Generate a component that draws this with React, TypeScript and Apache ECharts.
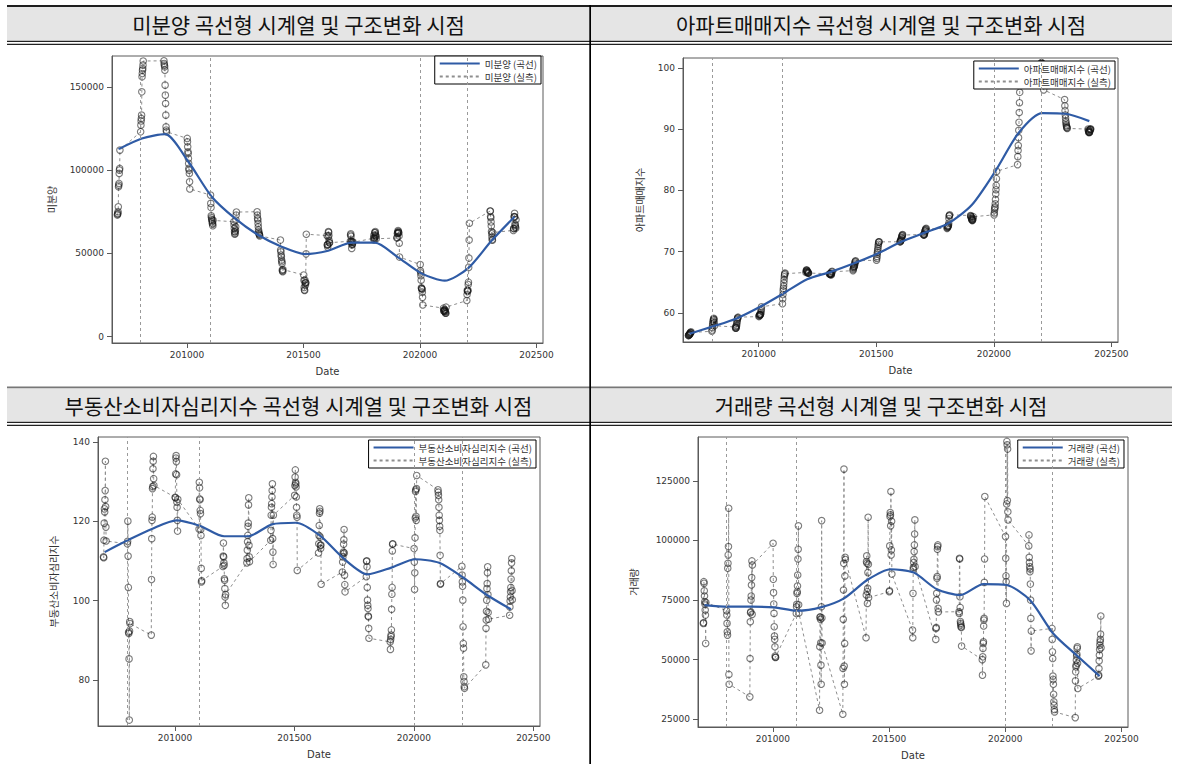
import React, { useEffect, useRef } from "react";
import * as echarts from "echarts";

// ---------------- data ----------------
const years = [2007, 2008, 2009, 2010, 2011, 2012, 2013, 2014, 2015, 2016, 2017, 2018, 2019, 2020, 2021, 2022, 2023, 2024];
const breakDates = [200801, 201101, 202001, 202201];
const xTickValues = [201000, 201500, 202000, 202500];

const titles = [
  "미분양 곡선형 시계열 및 구조변화 시점",
  "아파트매매지수 곡선형 시계열 및 구조변화 시점",
  "부동산소비자심리지수 곡선형 시계열 및 구조변화 시점",
  "거래량 곡선형 시계열 및 구조변화 시점",
];
const seriesLabels = ["미분양", "아파트매매지수", "부동산소비자심리지수", "거래량"];

const unsoldMonthly = [
  [73000, 73500, 74000, 75000, 78000, 90000, 91000, 92000, 98000, 100000, 101000, 112000],
  [123000, 127000, 129500, 131000, 133000, 147000, 156000, 158000, 160000, 161000, 163000, 165500],
  [165600, 164000, 163000, 162000, 160000, 151000, 145000, 140000, 133000, 126000, 124000, 123000],
  [119000, 117000, 114000, 111000, 110000, 107000, 104000, 101000, 100000, 98000, 93000, 88700],
  [85000, 80000, 77500, 72600, 71500, 70500, 70000, 69000, 68000, 67500, 66600, 69800],
  [69000, 67000, 65000, 63000, 61500, 62000, 63000, 64000, 66000, 70000, 73000, 74800],
  [75000, 73000, 71000, 70000, 68000, 66000, 64000, 63000, 62000, 61500, 61000, 60500],
  [58000, 52000, 51000, 49000, 48000, 46000, 45000, 44000, 40000, 39500, 39000, 40300],
  [37000, 33800, 29500, 28100, 27700, 34000, 32200, 30900, 32500, 32200, 49700, 61500],
  [60700, 55100, 55100, 53800, 55400, 59900, 63100, 62600, 60700, 57700, 56400, 56400],
  [57300, 61000, 61700, 60300, 56900, 57300, 53000, 55000, 55700, 55500, 56600, 57000],
  [59100, 60900, 58000, 59600, 58900, 62400, 62500, 63100, 61200, 60600, 60100, 58800],
  [59200, 59600, 62000, 62000, 62700, 63700, 63100, 62500, 62300, 60400, 56100, 47800],
  [43300, 39500, 38300, 36600, 33900, 29300, 28900, 28800, 28300, 26700, 23600, 19000],
  [17100, 15800, 15300, 15300, 16000, 16300, 15800, 15000, 14800, 14100, 14100, 17700],
  [21700, 25300, 27900, 27200, 27400, 27900, 31300, 32700, 41600, 47200, 58000, 68100],
  [75400, 75400, 72100, 71400, 68900, 66400, 63100, 61800, 59800, 58300, 57900, 62500],
  [63800, 64900, 64900, 71900, 72100, 74000, 71800, 67600, 66800, 65800, 65100, 70200],
];
const unsoldCurve = [112600, 119000, 121600, 105000, 84000, 71000, 61000, 54000, 49600, 51600, 56400, 56400, 47600, 38000, 33600, 41000, 57400, 72000];

const aptMonthly = [
  [56.3, 56.3, 56.4, 56.4, 56.5, 56.5, 56.6, 56.6, 56.7, 56.8, 56.8, 56.9],
  [57.0, 57.2, 57.6, 58.0, 58.3, 58.6, 58.8, 59.0, 59.1, 58.9, 58.4, 57.9],
  [57.7, 57.5, 57.5, 57.6, 57.8, 58.0, 58.3, 58.6, 58.9, 59.1, 59.2, 59.3],
  [59.4, 59.5, 59.6, 59.7, 59.7, 59.7, 59.7, 59.8, 60.0, 60.3, 60.6, 61.0],
  [61.5, 62.3, 63.0, 63.6, 64.0, 64.4, 64.9, 65.4, 65.9, 66.2, 66.4, 66.5],
  [66.6, 66.8, 67.0, 67.0, 66.9, 66.8, 66.7, 66.6, 66.6, 66.5, 66.5, 66.5],
  [66.4, 66.3, 66.3, 66.4, 66.4, 66.3, 66.3, 66.2, 66.3, 66.5, 66.7, 66.8],
  [66.9, 67.1, 67.3, 67.5, 67.5, 67.6, 67.7, 67.9, 68.1, 68.3, 68.4, 68.5],
  [68.6, 68.9, 69.2, 69.6, 69.9, 70.2, 70.5, 70.9, 71.2, 71.5, 71.6, 71.6],
  [71.6, 71.6, 71.7, 71.8, 71.9, 72.0, 72.2, 72.3, 72.5, 72.6, 72.7, 72.8],
  [72.8, 72.7, 72.7, 72.8, 72.9, 73.1, 73.3, 73.4, 73.5, 73.6, 73.7, 73.8],
  [73.8, 73.9, 74.0, 74.1, 74.1, 74.2, 74.3, 74.6, 75.4, 75.8, 75.9, 76.0],
  [75.9, 75.8, 75.7, 75.6, 75.4, 75.3, 75.2, 75.1, 75.1, 75.2, 75.4, 75.7],
  [76.0, 76.3, 76.8, 77.1, 77.3, 77.8, 78.5, 79.4, 80.1, 80.8, 81.9, 83.1],
  [84.2, 85.5, 86.5, 87.3, 88.6, 89.8, 91.1, 92.7, 94.3, 96.0, 97.9, 99.5],
  [100.4, 100.8, 100.8, 100.7, 100.6, 100.5, 100.3, 100.0, 99.5, 98.8, 97.6, 96.4],
  [94.8, 93.8, 93.0, 92.3, 91.8, 91.3, 91.0, 90.7, 90.5, 90.3, 90.2, 90.1],
  [90.0, 89.8, 89.6, 89.5, 89.4, 89.5, 89.5, 89.7, 89.9, 89.9, 90.0, 90.0],
];
const aptCurve = [56.6, 57.8, 59.1, 61.0, 63.2, 65.5, 66.7, 68.1, 69.7, 71.6, 73.1, 74.6, 77.6, 83.1, 89.4, 92.6, 92.5, 91.3];

const sentimentMonthly = [
  [111.0, 110.8, 115.2, 119.5, 123.1, 122.3, 125.4, 127.7, 135.1, 123.7, 118.5, 115.0],
  [114.3, 114.9, 120.0, 111.2, 103.3, 92.0, 91.7, 85.3, 69.9, 92.3, 94.7, 94.2],
  [91.3, 105.3, 115.6, 120.2, 121.0, 128.2, 128.7, 133.2, 135.1, 136.3, 130.7, 129.0],
  [126.0, 125.9, 131.9, 135.9, 136.5, 135.0, 131.7, 124.8, 123.5, 120.2, 117.5, 125.5],
  [118.0, 129.8, 128.4, 125.6, 125.4, 122.7, 121.9, 117.9, 116.4, 108.1, 104.7, 105.0],
  [108.6, 111.2, 114.5, 111.0, 109.5, 108.9, 105.5, 105.1, 103.0, 100.9, 98.8, 101.5],
  [109.5, 110.6, 112.7, 114.8, 116.4, 118.7, 119.5, 124.1, 125.9, 113.9, 111.0, 109.8],
  [115.2, 117.7, 121.5, 123.5, 124.4, 126.1, 127.7, 129.4, 115.6, 112.2, 109.1, 121.5],
  [126.5, 129.0, 131.1, 132.9, 129.8, 129.4, 128.6, 126.1, 123.5, 121.5, 121.0, 107.6],
  [112.0, 114.3, 116.4, 118.9, 122.0, 123.1, 122.5, 116.0, 113.9, 113.1, 114.0, 104.1],
  [107.2, 109.7, 111.0, 111.8, 112.2, 114.2, 115.3, 117.9, 112.0, 106.4, 104.0, 102.2],
  [106.0, 109.9, 110.0, 108.5, 103.3, 100.1, 98.8, 98.0, 96.1, 95.9, 93.0, 90.5],
  [89.6, 87.7, 90.2, 90.9, 91.3, 92.6, 97.8, 101.6, 103.3, 112.5, 114.2, 114.3],
  [113.1, 109.7, 102.8, 107.0, 115.8, 120.8, 127.5, 127.9, 121.2, 120.2, 128.2, 131.5],
  [127.9, 127.3, 126.5, 125.4, 123.5, 121.5, 120.2, 118.7, 117.7, 111.4, 104.1, 104.3],
  [108.6, 106.4, 104.7, 103.6, 100.1, 93.4, 89.2, 88.0, 80.8, 79.6, 78.3, 77.9],
  [83.8, 93.0, 95.1, 97.3, 100.1, 103.0, 104.3, 107.0, 108.5, 101.5, 97.0, 95.3],
  [96.3, 98.4, 99.9, 100.9, 102.2, 103.3, 105.4, 107.5, 109.5, 110.6, 102.5, 100.2],
];
const sentimentCurve = [112.2, 115.3, 118.1, 120.2, 118.8, 116.2, 116.2, 119.2, 119.6, 116.4, 110.6, 106.6, 108.3, 110.4, 109.5, 105.8, 101.4, 97.8];

const volumeMonthly = [
  [65200, 65500, 82700, 82000, 78900, 76700, 74300, 73300, 70800, 68700, 56800, 74000],
  [70500, 68700, 65200, 61700, 60300, 88300, 90400, 93900, 97400, 113500, 43800, 39700],
  [34400, 50500, 65900, 69700, 70100, 75000, 76700, 81300, 84400, 91400, 69000, 89700],
  [98800, 83700, 78100, 73300, 69400, 63800, 59900, 58500, 55400, 51500, 50900, 51000],
  [69400, 72200, 73200, 77800, 78500, 80900, 85500, 92200, 96300, 106100, 73000, 69600],
  [28800, 55400, 67700, 68000, 66900, 57100, 47700, 39700, 72200, 108300, 67500, 57000],
  [27100, 46300, 66900, 79200, 90400, 129900, 47300, 39700, 56800, 85100, 92900, 92000],
  [59200, 77100, 91100, 93500, 90400, 78500, 73600, 79900, 86500, 109700, 90000, 76000],
  [78500, 78900, 97700, 110000, 111700, 110700, 106100, 120500, 93900, 96000, 108000, 85900],
  [62400, 59200, 77800, 87900, 88700, 90700, 92100, 95300, 98100, 102700, 108600, 89000],
  [58500, 63100, 63500, 75000, 77800, 84100, 84800, 96300, 97400, 98100, 71500, 70000],
  [70100, 69400, 92500, 92200, 76400, 71900, 66000, 65200, 64500, 63800, 63500, 55700],
  [50000, 43500, 51200, 54700, 56800, 57500, 64100, 66600, 67300, 82400, 92200, 118400],
  [101600, 92500, 85100, 82700, 73600, 115300, 141500, 140100, 116700, 138300, 112000, 108600],
  [97700, 102300, 92900, 90700, 89000, 86900, 88000, 81700, 75000, 67300, 53700, 62000],
  [63100, 58500, 53300, 50500, 43100, 41700, 39700, 35500, 32300, 30900, 29100, 28100],
  [25700, 41100, 44900, 47000, 47700, 49800, 51500, 52300, 54700, 55400, 48500, 37900],
  [43100, 43500, 46300, 49500, 51900, 54300, 56100, 57500, 58500, 60700, 68300, 55000],
];
const volumeCurve = [72900, 72200, 72200, 71900, 70500, 71900, 75700, 83400, 87900, 86500, 79500, 77100, 81700, 81300, 75000, 61000, 51900, 43100];

const yTicks = [
  [0, 50000, 100000, 150000],
  [60, 70, 80, 90, 100],
  [80, 100, 120, 140],
  [25000, 50000, 75000, 100000, 125000],
];
const yRanges = [
  [-3800, 168500],
  [55.25, 101.6],
  [68.4, 141.2],
  [21765, 143361],
];

// ---------------- layout ----------------
const panels = [
  { grid: { left: 112, top: 56, width: 431, height: 287 }, nameGap: 56, legend: { right: 636, top: 56 } },
  { grid: { left: 683, top: 58, width: 435, height: 284 }, nameGap: 39, legend: { right: 62, top: 61 } },
  { grid: { left: 98, top: 437, width: 442, height: 289 }, nameGap: 40, legend: { right: 641, top: 440 } },
  { grid: { left: 698, top: 437, width: 430, height: 290 }, nameGap: 60, legend: { right: 53, top: 440 } },
];
const monthlyAll = [unsoldMonthly, aptMonthly, sentimentMonthly, volumeMonthly];
const curveAll = [unsoldCurve, aptCurve, sentimentCurve, volumeCurve];

const KR = "'Noto Sans CJK KR', 'Noto Sans', sans-serif";
const NUM = "'DejaVu Sans', sans-serif";

function buildOption() {
  const grid: any[] = [];
  const xAxis: any[] = [];
  const yAxis: any[] = [];
  const series: any[] = [];
  const legend: any[] = [];

  panels.forEach((p, i) => {
    const label = seriesLabels[i];
    const curveName = `${label} (곡선)`;
    const obsName = `${label} (실측)`;
    const pts: number[][] = [];
    years.forEach((y, yi) => {
      monthlyAll[i][yi].forEach((v, m) => pts.push([y * 100 + m + 1, v]));
    });
    const curvePts = years.map((y, yi) => [y * 100 + 6, curveAll[i][yi]]);

    grid.push({ ...p.grid, show: true, borderColor: "#5a5a5a", borderWidth: 1, containLabel: false });
    xAxis.push({
      type: "value",
      gridIndex: i,
      min: 200678,
      max: 202528,
      name: "Date",
      nameLocation: "middle",
      nameGap: 23,
      nameTextStyle: { fontFamily: NUM, fontSize: 10, color: "#333" },
      axisLine: { show: true, onZero: false, lineStyle: { color: "#5a5a5a" } },
      axisTick: { show: true, length: 5, customValues: xTickValues, lineStyle: { color: "#5a5a5a" } },
      axisLabel: {
        customValues: xTickValues,
        formatter: (v: number) => String(v),
        fontFamily: NUM,
        fontSize: 9,
        color: "#333",
        margin: 7,
      },
      splitLine: { show: false },
    });
    yAxis.push({
      type: "value",
      gridIndex: i,
      min: yRanges[i][0],
      max: yRanges[i][1],
      name: label,
      nameLocation: "middle",
      nameGap: p.nameGap,
      nameTextStyle: { fontFamily: KR, fontSize: 10, color: "#333" },
      axisLine: { show: true, onZero: false, lineStyle: { color: "#5a5a5a" } },
      axisTick: { show: true, length: 5, customValues: yTicks[i], lineStyle: { color: "#5a5a5a" } },
      axisLabel: {
        customValues: yTicks[i],
        formatter: (v: number) => String(v),
        fontFamily: NUM,
        fontSize: 9,
        color: "#333",
        margin: 8,
      },
      splitLine: { show: false },
    });
    series.push({
      type: "line",
      name: obsName,
      xAxisIndex: i,
      yAxisIndex: i,
      data: pts,
      symbol: "none",
      lineStyle: { color: "#8e8e8e", width: 1, type: [3, 3] },
      itemStyle: { color: "#8e8e8e" },
      z: 2,
      markLine: {
        silent: true,
        symbol: ["none", "none"],
        label: { show: false },
        lineStyle: { color: "#9a9a9a", width: 1, type: [3, 3] },
        data: breakDates.map((d) => ({ xAxis: d })),
      },
    });
    series.push({
      type: "scatter",
      name: `${label}-pts`,
      xAxisIndex: i,
      yAxisIndex: i,
      data: pts,
      symbol: "circle",
      symbolSize: 6.5,
      itemStyle: { color: "rgba(0,0,0,0)", borderColor: "rgba(20,20,20,0.7)", borderWidth: 1.1 },
      z: 3,
    });
    series.push({
      type: "line",
      name: curveName,
      xAxisIndex: i,
      yAxisIndex: i,
      data: curvePts,
      smooth: 0.25,
      symbol: "none",
      lineStyle: { color: "#2f5ba5", width: 2.2 },
      itemStyle: { color: "#2f5ba5" },
      z: 4,
    });
    legend.push({
      orient: "vertical",
      right: p.legend.right,
      top: p.legend.top,
      data: [curveName, obsName],
      itemWidth: 40,
      itemHeight: 13,
      itemGap: 0,
      padding: [1, 4, 1, 4],
      borderColor: "#000",
      borderWidth: 1,
      backgroundColor: "#fff",
      selectedMode: false,
      itemStyle: { opacity: 0, color: "rgba(0,0,0,0)", borderWidth: 0 },
      textStyle: { fontFamily: KR, fontSize: 9.5, lineHeight: 13, color: "#333" },
    });
  });

  const graphic: any[] = [
    // header row 1
    { type: "rect", shape: { x: 7, y: 5, width: 1165, height: 2 }, style: { fill: "#1e1e1e" }, silent: true },
    { type: "rect", shape: { x: 7, y: 7, width: 1165, height: 33.5 }, style: { fill: "#e5e5e5" }, silent: true },
    { type: "rect", shape: { x: 7, y: 40.8, width: 1165, height: 1.3 }, style: { fill: "#222" }, silent: true },
    { type: "rect", shape: { x: 7, y: 43.8, width: 1165, height: 1.3 }, style: { fill: "#222" }, silent: true },
    // header row 2
    { type: "rect", shape: { x: 7, y: 386.5, width: 1165, height: 2 }, style: { fill: "#777" }, silent: true },
    { type: "rect", shape: { x: 7, y: 388.5, width: 1165, height: 33 }, style: { fill: "#e5e5e5" }, silent: true },
    { type: "rect", shape: { x: 7, y: 421.8, width: 1165, height: 1.3 }, style: { fill: "#222" }, silent: true },
    { type: "rect", shape: { x: 7, y: 424.8, width: 1165, height: 1.3 }, style: { fill: "#222" }, silent: true },
    // vertical divider
    { type: "rect", shape: { x: 589.3, y: 5, width: 1.7, height: 759 }, style: { fill: "#000" }, silent: true },
  ];
  const titlePos = [
    [298.5, 24],
    [881, 24],
    [298.5, 405],
    [881, 405],
  ];
  titles.forEach((t, i) => {
    graphic.push({
      type: "text",
      x: titlePos[i][0],
      y: titlePos[i][1],
      silent: true,
      style: {
        text: t,
        fill: "#111",
        font: `normal 21px ${KR}`,
        align: "center",
        verticalAlign: "middle",
      },
    });
  });

  return {
    animation: false,
    backgroundColor: "#fff",
    grid,
    xAxis,
    yAxis,
    series,
    legend,
    graphic,
  };
}

export default function App() {
  const ref = useRef<HTMLDivElement | null>(null);
  useEffect(() => {
    if (!ref.current) return;
    const chart = echarts.init(ref.current, null, { renderer: "svg" });
    chart.setOption(buildOption() as any);
    return () => chart.dispose();
  }, []);
  return (
    <div
      ref={ref}
      style={{ position: "absolute", left: 0, top: 0, width: 1177, height: 764, background: "#fff" }}
    />
  );
}
